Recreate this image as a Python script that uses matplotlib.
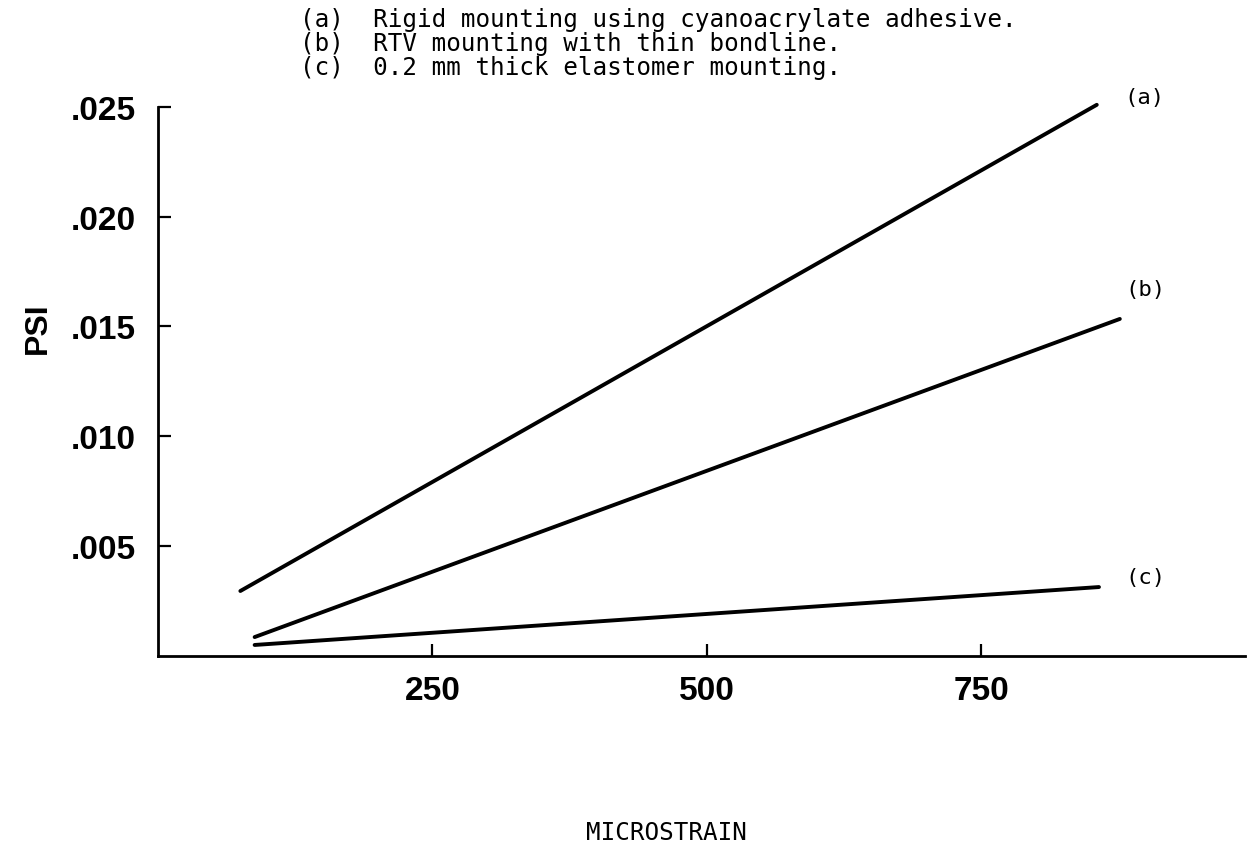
import matplotlib
matplotlib.use("Agg")
import matplotlib.pyplot as plt

# data
x_a = [75, 855]
y_a = [0.00294, 0.0251]
x_b = [88, 876]
y_b = [0.00084, 0.01534]
x_c = [88, 857]
y_c = [0.00048, 0.00312]
series_labels = ["(a)", "(b)", "(c)"]
label_pos = [(898, 0.02546), (899, 0.0167), (899, 0.00358)]
x_ticks = [250, 500, 750]
y_ticks = [0.005, 0.010, 0.015, 0.020, 0.025]
y_ticklabels = [".005", ".010", ".015", ".020", ".025"]
header = ["(a)  Rigid mounting using cyanoacrylate adhesive.",
          "(b)  RTV mounting with thin bondline.",
          "(c)  0.2 mm thick elastomer mounting."]

W, H = 1249, 854
fig = plt.figure(figsize=(W / 100, H / 100), dpi=100)
ax = fig.add_axes([158 / W, 1 - 656.5 / H, (1245 - 158) / W, (656.5 - 108) / H])

for xs, ys in [(x_a, y_a), (x_b, y_b), (x_c, y_c)]:
    ax.plot(xs, ys, color="black", lw=2.8, solid_capstyle="round", clip_on=False)

for lab, (lx, ly) in zip(series_labels, label_pos):
    ax.text(lx, ly, lab, ha="center", va="center", fontsize=16,
            family="DejaVu Sans Mono", color="black")

ax.set_xlim(0, 990)
ax.set_ylim(0, 0.025)
ax.set_xticks(x_ticks)
ax.set_xticklabels([str(v) for v in x_ticks])
ax.set_yticks(y_ticks)
ax.set_yticklabels(y_ticklabels)
for s in ["top", "right"]:
    ax.spines[s].set_visible(False)
for s in ["left", "bottom"]:
    ax.spines[s].set_linewidth(2)
ax.tick_params(axis="both", direction="in", length=9, width=1.6)
ax.tick_params(axis="x", pad=14)
ax.tick_params(axis="y", pad=16)
for t in ax.get_xticklabels() + ax.get_yticklabels():
    t.set_fontfamily("Liberation Sans")
    t.set_fontweight("bold")
    t.set_fontsize(24)

fig.text(38 / W, 1 - 328 / H, "PSI", rotation=90, ha="center", va="center",
         fontsize=23, fontweight="bold", family="Liberation Sans")
fig.text(666 / W, 1 - 833 / H, "MICROSTRAIN", ha="center", va="center",
         fontsize=17.5, family="DejaVu Sans Mono")

for i, line in enumerate(header):
    fig.text(300 / W, 1 - (20 + 24 * i) / H, line, ha="left", va="center",
             fontsize=17.5, family="DejaVu Sans Mono")

fig.savefig("out.png", dpi=100)
